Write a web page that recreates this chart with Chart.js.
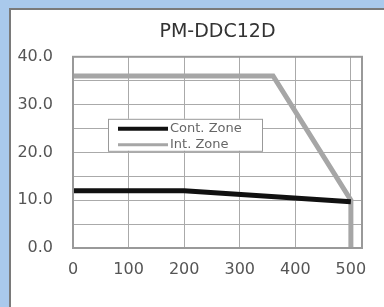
<!DOCTYPE html>
<html>
<head>
<meta charset="utf-8">
<script src="https://cdn.jsdelivr.net/npm/chart.js@4.4.1/dist/chart.umd.min.js"></script>
<style>
html,body{margin:0;padding:0;background:#a9c9ec;}
canvas{display:block;}
</style>
</head>
<body>
<canvas id="c" width="384" height="307"></canvas>
<script>
const TITLE = 'PM-DDC12D';
const seriesNames = ['Cont. Zone', 'Int. Zone'];
const contX = [0, 200, 500];
const contY = [12, 12, 9.7];
const intX = [0, 360, 500, 500];
const intY = [36, 36, 10, 0];
const xTicks = [0, 100, 200, 300, 400, 500];
const yTicks = [0, 10, 20, 30, 40];

const FONT = 'DejaVu Sans';

function pts(xs, ys) { return xs.map((x, i) => ({x: x, y: ys[i]})); }

const bgPlugin = {
  id: 'bg',
  beforeDraw(chart) {
    const ctx = chart.ctx;
    ctx.save();
    ctx.fillStyle = '#a9c9ec';
    ctx.fillRect(0, 0, chart.width, chart.height);
    ctx.fillStyle = '#ffffff';
    ctx.fillRect(9, 8, chart.width - 9, chart.height - 8);
    ctx.strokeStyle = '#7a7a7a';
    ctx.lineWidth = 2;
    ctx.beginPath();
    ctx.moveTo(10, chart.height);
    ctx.lineTo(10, 9);
    ctx.lineTo(chart.width, 9);
    ctx.stroke();
    ctx.restore();
  },
  afterDraw(chart) {
    const a = chart.chartArea, ctx = chart.ctx;
    ctx.save();
    ctx.strokeStyle = '#999999';
    ctx.lineWidth = 2;
    ctx.strokeRect(a.left, a.top, a.right - a.left, a.bottom - a.top);
    ctx.restore();
  }
};

const legendPlugin = {
  id: 'inlegend',
  afterDatasetsDraw(chart) {
    const a = chart.chartArea, ctx = chart.ctx;
    const bx = a.left + 35, by = a.top + 62, bw = 154, bh = 32;
    ctx.save();
    ctx.fillStyle = '#ffffff';
    ctx.fillRect(bx, by, bw, bh);
    ctx.strokeStyle = '#999999';
    ctx.lineWidth = 1;
    ctx.strokeRect(bx + 0.5, by + 0.5, bw, bh);
    chart.data.datasets.forEach((ds, i) => {
      const y = by + 10 + i * 16;
      ctx.strokeStyle = ds.borderColor;
      ctx.lineWidth = i === 0 ? 4 : 3;
      ctx.beginPath();
      ctx.moveTo(bx + 10, y);
      ctx.lineTo(bx + 60, y);
      ctx.stroke();
      ctx.fillStyle = '#666666';
      ctx.font = '13px "' + FONT + '"';
      ctx.textBaseline = 'middle';
      ctx.textAlign = 'left';
      ctx.fillText(ds.label, bx + 62, y);
    });
    ctx.restore();
  }
};

new Chart(document.getElementById('c'), {
  type: 'line',
  data: {
    datasets: [
      {label: seriesNames[0], data: pts(contX, contY), borderColor: '#111111', borderWidth: 5, pointRadius: 0, tension: 0, order: 1},
      {label: seriesNames[1], data: pts(intX, intY), borderColor: '#a6a6a6', borderWidth: 5, pointRadius: 0, tension: 0, order: 2}
    ]
  },
  options: {
    responsive: false,
    devicePixelRatio: 1,
    animation: false,
    layout: {padding: {left: 0, right: 22, top: 0, bottom: 0}},
    plugins: {
      legend: {display: false},
      tooltip: {enabled: false},
      title: {
        display: true, text: TITLE, color: '#333333', fullSize: false,
        font: {family: FONT, size: 19, weight: 'normal'},
        padding: {top: 21, bottom: 13}
      }
    },
    scales: {
      x: {
        type: 'linear', min: 0, max: 520,
        afterFit(s) { s.height = 59; },
        afterBuildTicks(s) {
          s.ticks = xTicks.map(v => ({value: v})).concat([{value: 520}]);
        },
        ticks: {
          autoSkip: false, maxRotation: 0, padding: 12,
          color: '#555555',
          font: {family: FONT, size: 16},
          callback: v => xTicks.includes(v) ? String(v) : ' '
        },
        grid: {color: '#aaaaaa', lineWidth: 1, drawTicks: false},
        border: {display: false}
      },
      y: {
        min: 0, max: 40,
        afterFit(s) { s.width = 73; },
        afterBuildTicks(s) {
          const t = [];
          for (let v = 0; v <= 40; v += 5) t.push({value: v});
          s.ticks = t;
        },
        ticks: {
          autoSkip: false, padding: 20,
          color: c => yTicks.includes(c.tick.value) ? '#555555' : 'rgba(0,0,0,0)',
          font: {family: FONT, size: 16},
          callback: v => Number(v).toFixed(1)
        },
        grid: {color: '#aaaaaa', lineWidth: 1, drawTicks: false},
        border: {display: false}
      }
    }
  },
  plugins: [bgPlugin, legendPlugin]
});
</script>
</body>
</html>
